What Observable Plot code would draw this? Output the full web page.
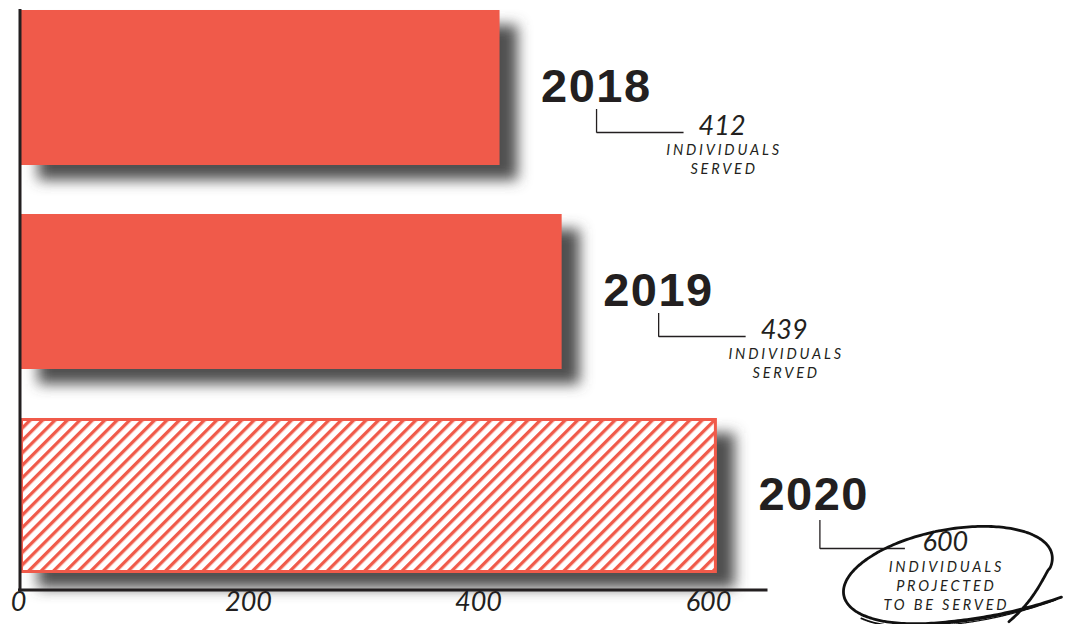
<!DOCTYPE html>
<html>
<head>
<meta charset="utf-8">
<script src="https://cdn.jsdelivr.net/npm/d3@7"></script>
<script src="https://cdn.jsdelivr.net/npm/@observablehq/plot@0.6"></script>
<style>
  html, body { margin: 0; padding: 0; background: #ffffff; }
  #chart svg { display: block; }
</style>
</head>
<body>
<div id="chart"></div>
<script>
// ---- data ----
const years = ["2018", "2019", "2020"];
const barValues = [417, 471, 606];          // bar lengths as drawn on the axis
const servedCounts = [412, 439, 600];       // printed counts
const servedNotes = [
  "INDIVIDUALS\nSERVED",
  "INDIVIDUALS\nSERVED",
  "INDIVIDUALS\nPROJECTED\nTO BE SERVED"
];
const projectedFlags = [false, false, true];
const xTicks = [0, 200, 400, 600];
const xDomain = [0, 900];
const axisLineEnd = 650;

const RED = "#F05A4A";
const INK = "#231f20";
const LIGHT_FONT = "Lato, 'Open Sans', sans-serif";
const BOLD_FONT = "'Liberation Sans', Arial, sans-serif";

const data = years.map((year, i) => ({
  year, value: barValues[i], count: servedCounts[i],
  note: servedNotes[i], projected: projectedFlags[i]
}));
const served = data.filter(d => !d.projected);
const proj = data.filter(d => d.projected);

const plot = Plot.plot({
  width: 1068,
  height: 624,
  marginLeft: 20,
  marginRight: 13,
  marginTop: 9,
  marginBottom: 34,
  style: {background: "#ffffff", overflow: "visible"},
  x: {domain: xDomain, axis: null},
  y: {domain: years, axis: null, paddingInner: 0.24, paddingOuter: 0.044, align: 0.056},
  marks: [
    // drop shadow
    Plot.barX(data, {x: "value", y: "year", fill: "#4f4f4f", dx: 18, dy: 15}),
    // solid bars
    Plot.barX(served, {x: "value", y: "year", fill: RED}),
    // hatched projected bar
    Plot.barX(proj, {x: "value", y: "year", fill: "url(#hatch)", stroke: RED, strokeWidth: 3, inset: 1.5}),
    // vertical axis line
    Plot.ruleX([0], {stroke: INK, strokeWidth: 3, dx: -0.5}),
    // tick labels
    Plot.text(xTicks, {x: d => d, text: d => String(d), frameAnchor: "bottom", dy: 20, dx: -2, fontSize: 27,
      fontStyle: "italic", fontWeight: 400, fontFamily: LIGHT_FONT, fill: INK}),
    // year labels
    Plot.text(data, {x: "value", y: "year", text: "year", textAnchor: "start", dx: 41, dy: -1,
      fontSize: 47, fontWeight: "bold", fontFamily: BOLD_FONT, fill: INK}),
    // leader lines, horizontal parts
    Plot.ruleY(served, {y: "year", x1: "value", x2: "value", dx: 97, dy: 44.5, insetLeft: 0, insetRight: -87, stroke: INK, strokeWidth: 1.3}),
    Plot.ruleY(proj, {y: "year", x1: "value", x2: "value", dx: 103, dy: 52.5, insetLeft: 0, insetRight: -85, stroke: INK, strokeWidth: 1.3}),
    // counts
    Plot.text(served, {x: "value", y: "year", text: d => String(d.count), dx: 222, dy: 38, fontSize: 27,
      fontStyle: "italic", fontWeight: 400, fontFamily: LIGHT_FONT, fill: INK}),
    Plot.text(proj, {x: "value", y: "year", text: d => String(d.count), dx: 228, dy: 46, fontSize: 27,
      fontStyle: "italic", fontWeight: 400, fontFamily: LIGHT_FONT, fill: INK}),
    // notes
    Plot.text(served, {x: "value", y: "year", text: "note", dx: 224, dy: 54, lineAnchor: "top", lineHeight: 1.3,
      fontSize: 14.5, fontStyle: "italic", fontWeight: 400, fontFamily: LIGHT_FONT, fill: INK}),
    Plot.text(proj, {x: "value", y: "year", text: "note", dx: 229, dy: 63, lineAnchor: "top", lineHeight: 1.3,
      fontSize: 14.5, fontStyle: "italic", fontWeight: 400, fontFamily: LIGHT_FONT, fill: INK})
  ]
});

const svg = d3.select(plot);
const defs = svg.insert("defs", ":first-child");
const filt = defs.append("filter").attr("id", "shadow")
  .attr("x", "-10%").attr("y", "-10%").attr("width", "130%").attr("height", "130%");
filt.append("feGaussianBlur").attr("stdDeviation", 7);
const pat = defs.append("pattern").attr("id", "hatch").attr("patternUnits", "userSpaceOnUse")
  .attr("width", 8.8).attr("height", 8.8).attr("patternTransform", "rotate(45)");
pat.append("rect").attr("width", 8.8).attr("height", 8.8).attr("fill", "#ffffff");
pat.append("rect").attr("width", 3.3).attr("height", 8.8).attr("fill", RED);

svg.selectAll('g[aria-label="bar"]').filter((d, i) => i === 0).attr("filter", "url(#shadow)");
svg.selectAll('g[aria-label="text"]').filter(function () {
  return this.textContent.includes("INDIVIDUALS");
}).attr("letter-spacing", "2.8px");
svg.selectAll('g[aria-label="text"]').filter(function () {
  return this.textContent.includes("2018");
}).attr("letter-spacing", "1.5px");

// horizontal axis line, leader verticals and hand-drawn loop, placed through Plot's scales
const xs = plot.scale("x"), ys = plot.scale("y");
const y0 = 624 - 34;
svg.append("line")
  .attr("x1", xs.apply(0) - 2).attr("x2", xs.apply(axisLineEnd))
  .attr("y1", y0).attr("y2", y0)
  .attr("stroke", INK).attr("stroke-width", 3);

data.forEach(d => {
  const E = xs.apply(d.value), T = ys.apply(d.year);
  const lx = E + (d.projected ? 103 : 97);
  const top = T + (d.projected ? 102 : 99), bot = T + (d.projected ? 130 : 122);
  svg.append("line").attr("x1", lx).attr("x2", lx).attr("y1", top).attr("y2", bot + 0.65)
    .attr("stroke", INK).attr("stroke-width", 1.3);
});

proj.forEach(d => {
  const E = xs.apply(d.value), T = ys.apply(d.year);
  const cx = E + 231, cy = T + 157;
  const rot = -12 * Math.PI / 180;
  const a = 106, b = 45;
  const loop = (th0, th1, scaleFn, jitter) => {
    const pts = [];
    const N = 240;
    for (let k = 0; k <= N; k++) {
      const th = (th0 + (th1 - th0) * k / N) * Math.PI / 180;
      const s = scaleFn(th * 180 / Math.PI);
      const lx = a * s * Math.cos(th), ly = b * s * Math.sin(th) + jitter;
      pts.push([cx + lx * Math.cos(rot) - ly * Math.sin(rot), cy + lx * Math.sin(rot) + ly * Math.cos(rot)]);
    }
    return d3.line().curve(d3.curveBasis)(pts);
  };
  const sc1 = t => t < 110 ? 1 + 0.42 * Math.pow((110 - t) / 65, 2) : (t > 380 ? 1 + 0.38 * Math.pow((t - 380) / 50, 2) : 1 + 0.015 * Math.sin(t * Math.PI / 90));
  const sc2 = t => t < 110 ? 1 + 0.40 * Math.pow((110 - t) / 65, 2) : 1.02;
  const sc3 = t => 1 + 0.38 * Math.pow(Math.max(0, 120 - t) / 75, 2) + 0.035;
  svg.append("path").attr("d", loop(45, 430, sc1, 0))
    .attr("fill", "none").attr("stroke", "#111").attr("stroke-width", 2.8).attr("stroke-linecap", "round");
  svg.append("path").attr("d", loop(47, 150, sc2, 1.5))
    .attr("fill", "none").attr("stroke", "#111").attr("stroke-width", 1.8).attr("stroke-linecap", "round");
  svg.append("path").attr("d", loop(46, 125, sc3, 0.5))
    .attr("fill", "none").attr("stroke", "#111").attr("stroke-width", 1.2).attr("stroke-linecap", "round");
});

document.getElementById("chart").appendChild(plot);
</script>
</body>
</html>
